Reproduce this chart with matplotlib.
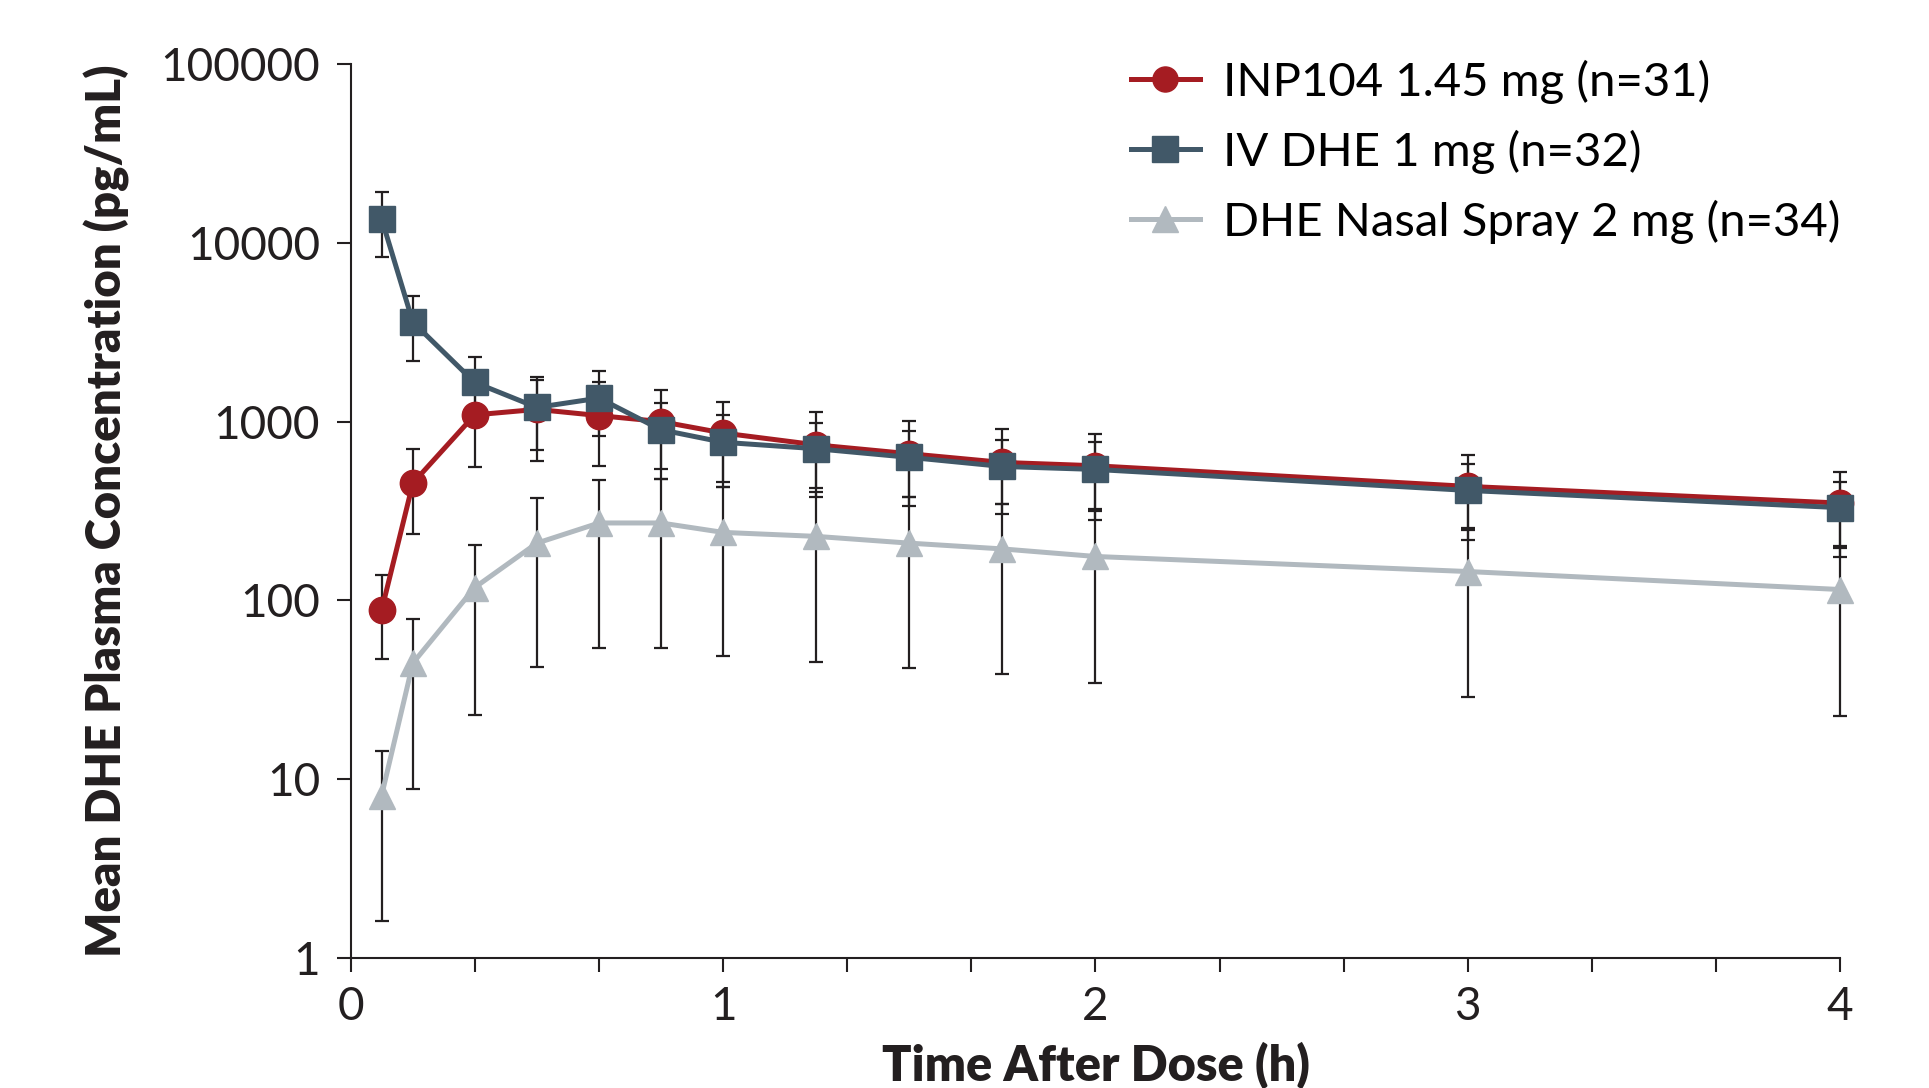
import matplotlib
matplotlib.use('Agg')
import matplotlib.pyplot as plt
import numpy as np

# time points (h)
time_h = [0.083, 0.167, 0.333, 0.5, 0.667, 0.833, 1.0, 1.25, 1.5, 1.75, 2.0, 3.0, 4.0]

# mean DHE plasma concentration (pg/mL) with lower / upper error bar ends
inp104_mean = [88, 453, 1090, 1170, 1080, 1000, 863, 741, 661, 591, 566, 434, 350]
inp104_lo = [47, 236, 557, 690, 561, 477, 431, 379, 337, 303, 280, 218, 175]
inp104_hi = [139, 705, 1620, 1698, 1675, 1494, 1285, 1130, 1010, 904, 847, 652, 524]

iv_mean = [13600, 3600, 1656, 1200, 1353, 900, 766, 705, 631, 561, 540, 412, 330]
iv_lo = [8300, 2190, 1000, 600, 826, 543, 460, 425, 377, 344, 316, 249, 201]
iv_hi = [19300, 5070, 2310, 1786, 1923, 1268, 1082, 988, 881, 791, 764, 581, 459]

nasal_mean = [8.1, 44.6, 118, 209, 271, 271, 240, 228, 209, 194, 176, 145, 115]
nasal_lo = [1.6, 8.8, 23, 42.5, 54, 54, 48.9, 45.3, 41.7, 38.6, 34.7, 28.7, 22.5]
nasal_hi = [14.3, 79, 203, 373, 473, 477, 431, 402, 377, 344, 326, 254, 196]

labels = ['INP104 1.45 mg (n=31)', 'IV DHE 1 mg (n=32)', 'DHE Nasal Spray 2 mg (n=34)']
colors = ['#A51C22', '#415868', '#B1B9BF']
markers = ['o', 's', '^']

y_ticks = [1, 10, 100, 1000, 10000, 100000]

plt.rcParams['font.family'] = ['Lato', 'DejaVu Sans']

fig = plt.figure(figsize=(19.29, 10.88), dpi=100)
ax = fig.add_axes([0.1818, 0.1195, 0.7722, 0.8217])

series = [
    (inp104_mean, inp104_lo, inp104_hi),
    (iv_mean, iv_lo, iv_hi),
    (nasal_mean, nasal_lo, nasal_hi),
]
zorders = [3, 4, 2]

handles = []
for (m, lo, hi), lab, c, mk, z in zip(series, labels, colors, markers, zorders):
    m = np.array(m, dtype=float)
    err = [m - np.array(lo), np.array(hi) - m]
    eb = ax.errorbar(time_h, m, yerr=err, fmt='none', ecolor='#231F20',
                     elinewidth=1.6, capsize=5, capthick=1.6, zorder=1)
    for art in eb.lines[1] + eb.lines[2]:
        art.set_clip_on(False)
    h, = ax.plot(time_h, m, color=c, marker=mk, markersize=19, linewidth=3.6,
                 zorder=z, label=lab, clip_on=False)
    handles.append(h)

ax.set_yscale('log')
ax.set_ylim(1, 100000)
ax.set_xlim(0, 4)
ax.set_yticks(y_ticks)
ax.set_yticklabels([str(v) for v in y_ticks])
ax.yaxis.set_minor_locator(matplotlib.ticker.NullLocator())

xt = np.arange(0, 13) / 3.0
ax.set_xticks(xt)
ax.set_xticklabels([str(int(round(v))) if abs(v - round(v)) < 1e-6 else '' for v in xt])

for s in ['top', 'right']:
    ax.spines[s].set_visible(False)
for s in ['left', 'bottom']:
    ax.spines[s].set_linewidth(1.5)
    ax.spines[s].set_color('#231F20')

ax.tick_params(axis='both', which='both', direction='out', length=10, width=1.5,
               color='#231F20', labelsize=33, labelcolor='#231F20')
ax.tick_params(axis='y', pad=12)
ax.tick_params(axis='x', pad=10)

ax.set_xlabel('Time After Dose (h)', fontsize=35, fontweight='heavy', color='#231F20', labelpad=10)
ax.set_ylabel('Mean DHE Plasma Concentration (pg/mL)', fontsize=34, fontweight='heavy',
              color='#231F20', labelpad=22)

ax.legend(handles=handles, loc='upper left', bbox_to_anchor=(0.524, 1.005), frameon=False,
          fontsize=34, handlelength=1.45, handletextpad=0.5, labelspacing=0.55,
          borderpad=0, borderaxespad=0, markerscale=0.95)

fig.savefig('out.png', dpi=100)
